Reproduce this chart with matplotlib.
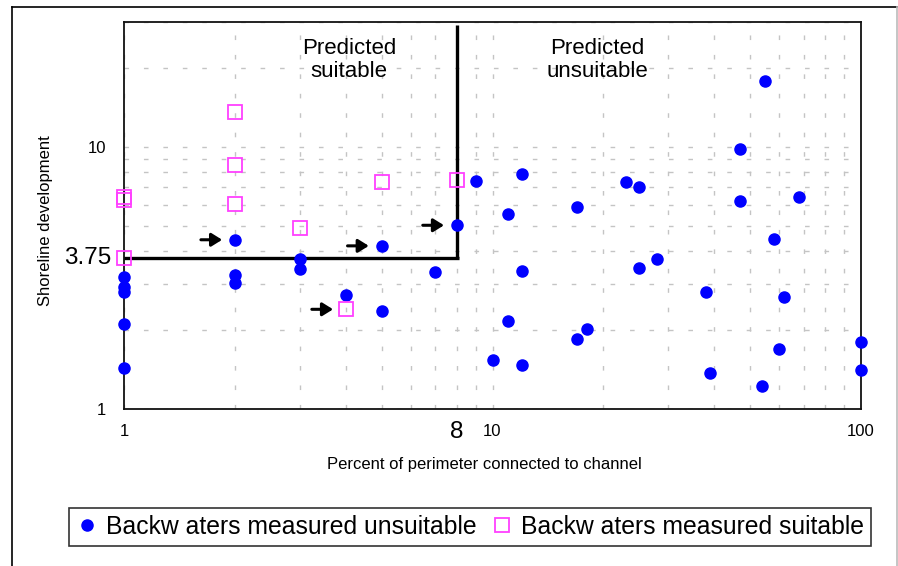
import matplotlib
matplotlib.use("Agg")
import matplotlib.pyplot as plt
from matplotlib.lines import Line2D
from matplotlib.ticker import LogLocator, NullFormatter, FixedLocator, FixedFormatter
import numpy as np

plt.rcParams['font.family'] = ['Liberation Sans', 'DejaVu Sans']

# ---- data ----
unsuit_x = [1, 1, 1, 1, 1, 2, 2, 2, 3, 3, 4, 5, 5, 7,
            8, 9, 10, 11, 11, 12, 12, 12, 17, 17, 18, 23, 25, 25, 28,
            38, 39, 47, 47, 54, 55, 58, 60, 62, 68, 100, 100]
unsuit_y = [3.18, 2.91, 2.80, 2.11, 1.43, 4.42, 3.25, 3.02, 3.73, 3.41, 2.72, 4.19, 2.36, 3.32,
            5.02, 7.40, 1.54, 5.53, 2.17, 7.87, 3.36, 1.47, 5.89, 1.85, 2.02, 7.35, 7.02, 3.44, 3.73,
            2.79, 1.37, 9.8, 6.2, 1.22, 17.8, 4.44, 1.70, 2.68, 6.43, 1.80, 1.41]
suit_x = [1, 1, 1, 2, 2, 2, 3, 4, 5, 8]
suit_y = [6.46, 6.28, 3.76, 13.6, 8.49, 6.04, 4.92, 2.40, 7.33, 7.46]

arrow_x = [2, 5, 4, 8]
arrow_y = [4.42, 4.19, 2.40, 5.02]

thr_x = 8
thr_y = 3.75
x_lim = (1, 100)
y_lim = (1, 30)

labels = ["Backw aters measured unsuitable", "Backw aters measured suitable"]

# ---- figure ----
W, H = 898, 566
fig = plt.figure(figsize=(W / 100, H / 100), dpi=100)
ax = fig.add_axes([124 / W, 1 - 409 / H, (861 - 124) / W, (409 - 21.7) / H])

ax.set_xscale('log')
ax.set_yscale('log')
ax.set_xlim(*x_lim)
ax.set_ylim(*y_lim)

ax.xaxis.set_major_locator(FixedLocator([1, 10, 100]))
ax.xaxis.set_major_formatter(FixedFormatter(['1', '10', '100']))
ax.yaxis.set_major_locator(FixedLocator([1, 10]))
ax.yaxis.set_major_formatter(FixedFormatter(['1', '10']))
ax.xaxis.set_minor_locator(LogLocator(base=10, subs=np.arange(2, 10)))
ax.yaxis.set_minor_locator(LogLocator(base=10, subs=np.arange(2, 10)))
ax.xaxis.set_minor_formatter(NullFormatter())
ax.yaxis.set_minor_formatter(NullFormatter())
ax.tick_params(which='both', length=0)
ax.tick_params(axis='y', labelsize=12, pad=13)
ax.tick_params(axis='x', labelsize=12, pad=11)

ax.grid(which='both', color='#c4c4c4', linewidth=1.0, linestyle=(0, (3.3, 10.7)))
ax.set_axisbelow(True)
for s in ax.spines.values():
    s.set_linewidth(1.3)
    s.set_color('#111111')

# threshold lines
ax.plot([x_lim[0], thr_x * 1.012], [thr_y, thr_y], color='black', lw=2.4,
        solid_capstyle='butt', zorder=3, clip_on=False)
ax.plot([thr_x, thr_x], [thr_y, 29.2], color='black', lw=2.4,
        solid_capstyle='butt', zorder=3, clip_on=False)

# points
ax.plot(unsuit_x, unsuit_y, linestyle='none', marker='o', markersize=8,
        markerfacecolor='#0000ff', markeredgecolor='#0000ff', clip_on=False,
        zorder=4, label=labels[0])
ax.plot(suit_x, suit_y, linestyle='none', marker='s', markersize=9.5,
        markerfacecolor='none', markeredgecolor='#ff40ff', markeredgewidth=1.3,
        clip_on=False, zorder=4, label=labels[1])

# arrows
for xa, ya in zip(arrow_x, arrow_y):
    ax.annotate('', xy=(xa, ya), xytext=(-24.5, 0), textcoords='offset points',
                arrowprops=dict(arrowstyle='-|>,head_length=0.45,head_width=0.28',
                                color='black', lw=2.2,
                                shrinkA=0, shrinkB=9.2, mutation_scale=14),
                zorder=5)

# special threshold tick labels
ax.text(-0.017, thr_y, '3.75', transform=ax.get_yaxis_transform(),
        ha='right', va='center', fontsize=17.5)
ax.text(thr_x, -0.0594, '8', transform=ax.get_xaxis_transform(),
        ha='center', va='center', fontsize=17.5)

# region annotations
ax.text(0.3053, 0.901, 'Predicted\nsuitable', transform=ax.transAxes,
        ha='center', va='center', fontsize=16, linespacing=1.15)
ax.text(0.6418, 0.901, 'Predicted\nunsuitable', transform=ax.transAxes,
        ha='center', va='center', fontsize=16, linespacing=1.15)

ax.set_xlabel('Percent of perimeter connected to channel', fontsize=12)
ax.set_ylabel('Shoreline development', fontsize=12)
ax.xaxis.set_label_coords(0.4885, -0.1247)
ax.yaxis.set_label_coords(-0.0967, 0.4867)

# legend
leg = fig.legend(loc='center', bbox_to_anchor=(470 / W, 1 - 527 / H), ncol=2,
                 frameon=True, fancybox=False, edgecolor='black', fontsize=17.8,
                 handletextpad=0.3, columnspacing=0.6, borderpad=0.3,
                 handlelength=0.9, borderaxespad=0, markerscale=1.0)
leg.get_frame().set_linewidth(1.2)

# outer frame
fig.add_artist(Line2D([12 / W, 12 / W], [0, 1 - 7 / H], color='black', lw=1.2,
                      transform=fig.transFigure))
fig.add_artist(Line2D([12 / W, 896.5 / W], [1 - 7 / H, 1 - 7 / H], color='black', lw=1.2,
                      transform=fig.transFigure))
fig.add_artist(Line2D([896.5 / W, 896.5 / W], [0, 1 - 7 / H], color='#bbbbbb', lw=1.2,
                      transform=fig.transFigure))

fig.savefig('out.png', dpi=100)
